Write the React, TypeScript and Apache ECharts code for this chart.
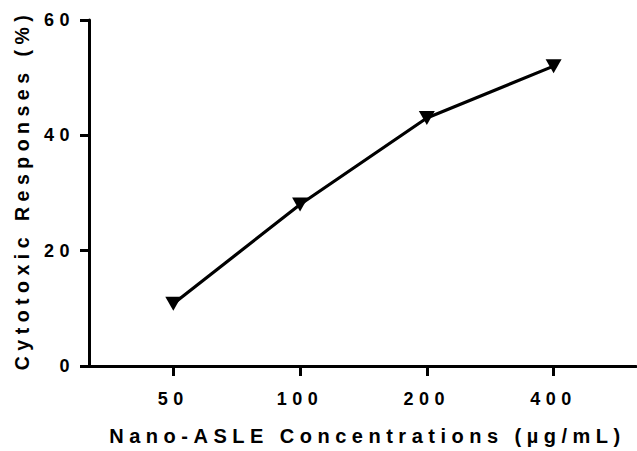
import React, { useEffect, useRef } from "react";
import * as echarts from "echarts";

const categories = ["50", "100", "200", "400"];
const positions = [1, 2, 3, 4];
const responses = [10.8, 28, 43, 52];
const yTicks = [0, 20, 40, 60];

const FONT = "'Liberation Sans', Arial, Helvetica, sans-serif";

export default function App() {
  const ref = useRef<HTMLDivElement>(null);
  useEffect(() => {
    if (!ref.current) return;
    const chart = echarts.init(ref.current, undefined, { renderer: "svg" });
    chart.setOption({
      animation: false,
      backgroundColor: "#ffffff",
      grid: { left: 89, top: 20, right: 1, bottom: 84, containLabel: false },
      xAxis: {
        type: "value",
        min: 0.335,
        max: 4.65,
        name: "Nano-ASLE Concentrations (µg/mL)",
        nameLocation: "middle",
        nameGap: 60,
        nameTextStyle: { fontFamily: FONT, fontWeight: "bold", fontSize: 20, color: "#000", padding: [0, 0, 0, 10] },
        axisLine: { show: true, onZero: false, lineStyle: { color: "#000", width: 3 } },
        axisTick: { show: true, length: 10, lineStyle: { color: "#000", width: 3 }, customValues: positions },
        axisLabel: {
          customValues: positions,
          margin: 24,
          fontFamily: FONT,
          fontWeight: "bold",
          fontSize: 18,
          color: "#000",
          formatter: (v: number) => categories[positions.indexOf(Math.round(v))] ?? "",
        },
        splitLine: { show: false },
      },
      yAxis: {
        type: "value",
        min: yTicks[0],
        max: yTicks[yTicks.length - 1],
        interval: 20,
        name: "Cytotoxic Responses (%)",
        nameLocation: "middle",
        nameGap: 57,
        nameTextStyle: { fontFamily: FONT, fontWeight: "bold", fontSize: 19.5, color: "#000", padding: [0, 0, 0, 6] },
        axisLine: { show: true, lineStyle: { color: "#000", width: 3 } },
        axisTick: { show: true, length: 9, lineStyle: { color: "#000", width: 3 } },
        axisLabel: { margin: 14, fontFamily: FONT, fontWeight: "bold", fontSize: 18, color: "#000" },
        splitLine: { show: false },
      },
      series: [
        {
          type: "line",
          data: positions.map((p, i) => [p, responses[i]]),
          symbol: "triangle",
          symbolRotate: 180,
          symbolSize: [16, 14],
          itemStyle: { color: "#000" },
          lineStyle: { color: "#000", width: 3.2 },
        },
      ],
    });
    return () => chart.dispose();
  }, []);
  return (
    <div
      ref={ref}
      style={{ position: "fixed", left: 0, top: 0, width: 637, height: 451, letterSpacing: "5.5px", background: "#fff" }}
    />
  );
}
